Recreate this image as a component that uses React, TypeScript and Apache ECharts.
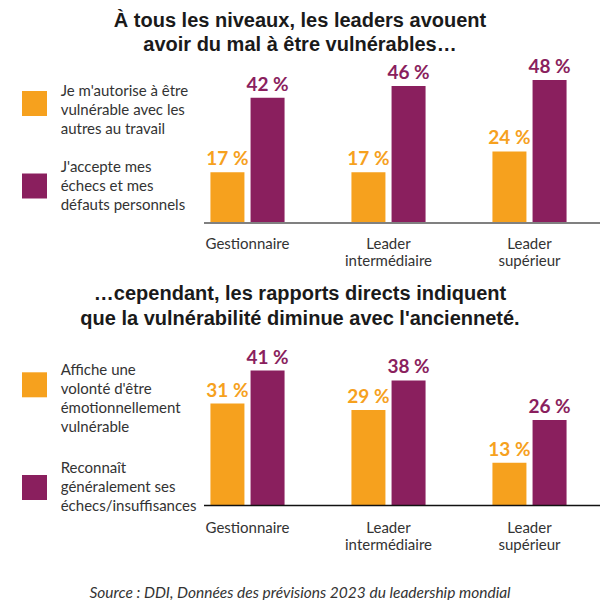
import React, { useEffect, useRef } from 'react'
import * as echarts from 'echarts'

// categories shared by both panels
const categories = ['Gestionnaire', 'Leader\nintermédiaire', 'Leader\nsupérieur']

// panel 1: leaders about themselves
const leadersVulnerable = [17, 17, 24]
const leadersFailures = [42, 46, 48]

// panel 2: direct reports about their leaders
const reportsVulnerable = [31, 29, 13]
const reportsFailures = [41, 38, 26]

const seriesNames = [
  "Je m'autorise à être vulnérable avec les autres au travail",
  "J'accepte mes échecs et mes défauts personnels",
  "Affiche une volonté d'être émotionnellement vulnérable",
  'Reconnaît généralement ses échecs/insuffisances',
]
const legendLines = [
  ["Je m'autorise à être", 'vulnérable avec les', 'autres au travail'],
  ["J'accepte mes", 'échecs et mes', 'défauts personnels'],
  ['Affiche une', "volonté d'être", 'émotionnellement', 'vulnérable'],
  ['Reconnaît', 'généralement ses', 'échecs/insuffisances'],
]

const title1 = 'À tous les niveaux, les leaders avouent\navoir du mal à être vulnérables…'
const title2 = '…cependant, les rapports directs indiquent\nque la vulnérabilité diminue avec l\'ancienneté.'
const source = 'Source : DDI, Données des prévisions 2023 du leadership mondial'

const ORANGE = '#F6A11E'
const PURPLE = '#8A1F5E'
const FONT = 'Lato, "Liberation Sans", sans-serif'
const TITLE_FONT = '"Liberation Sans", Arial, sans-serif'

const grids = [
  { left: 177, right: 0, top: 74, height: 149 },
  { left: 177, right: 0, top: 341, height: 164.5 },
]

// legend swatches and their text blocks (square top, text top, line height)
const legendSpots = [
  { sq: 91, txt: 80.4, lh: 19.2, color: ORANGE },
  { sq: 173.5, txt: 156.4, lh: 19.2, color: PURPLE },
  { sq: 372.3, txt: 359.8, lh: 18.9, color: ORANGE },
  { sq: 475, txt: 457.8, lh: 19, color: PURPLE },
]

const barSeries = (name: string, data: number[], color: string, idx: number) => ({
  name,
  type: 'bar',
  xAxisIndex: idx,
  yAxisIndex: idx,
  data,
  barWidth: 34,
  barGap: '18%',
  itemStyle: { color },
  label: {
    show: true,
    position: 'top',
    distance: 5,
    formatter: '{c} %',
    color,
    fontFamily: FONT,
    fontWeight: 'bold',
    fontSize: 19,
  },
})

const App: React.FC = () => {
  const chartRef = useRef<HTMLDivElement>(null)

  useEffect(() => {
    document.body.style.margin = '0'
    if (!chartRef.current) return
    const chart = echarts.init(chartRef.current, null, { renderer: 'svg' })

    const xAxis = grids.map((_, i) => ({
      type: 'category',
      gridIndex: i,
      data: categories,
      axisLine: { show: false },
      axisTick: { show: false },
      axisLabel: {
        fontFamily: FONT,
        fontSize: 15,
        lineHeight: 17,
        color: '#333',
        margin: i === 0 ? 11 : 13,
      },
    }))
    const yAxis = grids.map((_, i) => ({
      type: 'value',
      gridIndex: i,
      min: 0,
      max: 50,
      show: false,
    }))
    const axisY = grids.map((g) => g.top + g.height)
    const titleStyle = { fontFamily: TITLE_FONT, fontSize: 20, fontWeight: 'bold', color: '#1a1a1a' }

    const legendGraphics = legendSpots.flatMap((s, i) => [
      { type: 'rect', shape: { x: 22, y: s.sq, width: 25, height: 25 }, style: { fill: s.color } },
      {
        type: 'text',
        x: 60.7,
        y: s.txt,
        style: {
          text: legendLines[i].join('\n'),
          fontFamily: FONT,
          fontSize: 15,
          lineHeight: s.lh,
          fill: '#333',
          verticalAlign: 'top',
        },
      },
    ])

    chart.setOption({
      animation: false,
      title: [
        { text: title1, left: 'center', top: 8, padding: 0, textStyle: { ...titleStyle, lineHeight: 24 } },
        { text: title2, left: 'center', top: 281, padding: 0, textStyle: { ...titleStyle, lineHeight: 24.4 } },
        {
          text: source,
          left: 'center',
          top: 584.5,
          padding: 0,
          textStyle: { fontFamily: FONT, fontSize: 15.5, fontStyle: 'italic', fontWeight: 'normal', lineHeight: 14, color: '#333' },
        },
      ],
      grid: grids,
      xAxis,
      yAxis,
      graphic: [
        ...legendGraphics,
        { type: 'line', z: 10, shape: { x1: 204, y1: axisY[0], x2: 600, y2: axisY[0] }, style: { stroke: '#808080', lineWidth: 2 } },
        { type: 'line', z: 10, shape: { x1: 204, y1: axisY[1], x2: 600, y2: axisY[1] }, style: { stroke: '#111', lineWidth: 1.5 } },
      ],
      series: [
        barSeries(seriesNames[0], leadersVulnerable, ORANGE, 0),
        barSeries(seriesNames[1], leadersFailures, PURPLE, 0),
        barSeries(seriesNames[2], reportsVulnerable, ORANGE, 1),
        barSeries(seriesNames[3], reportsFailures, PURPLE, 1),
      ],
    })

    return () => {
      chart.dispose()
    }
  }, [])

  return <div ref={chartRef} style={{ width: 600, height: 600 }} />
}

export default App
